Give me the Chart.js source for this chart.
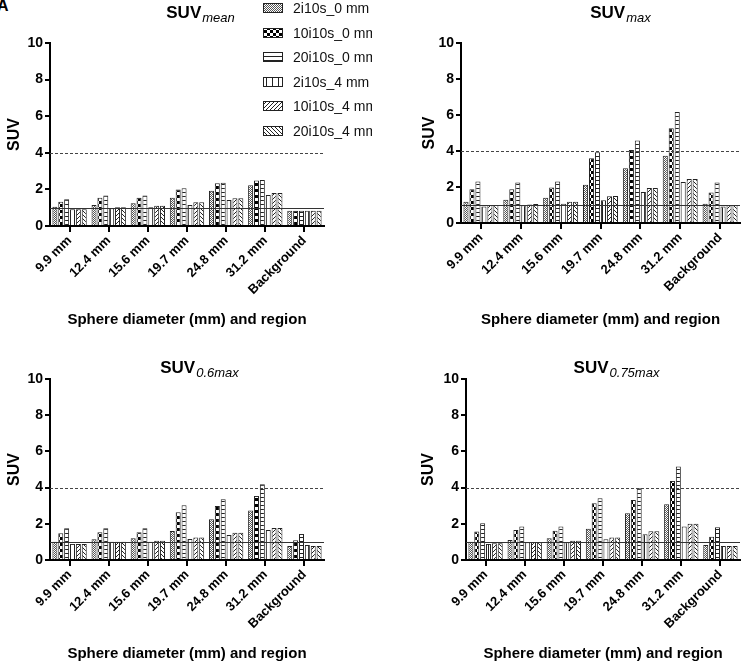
<!DOCTYPE html>
<html>
<head>
<meta charset="utf-8">
<script src="https://cdn.jsdelivr.net/npm/chart.js@4.4.1/dist/chart.umd.min.js"></script>
<style>
  body { margin: 0; background: #fff; width: 744px; height: 667px; position: relative; overflow: hidden; font-family: "Liberation Sans", Arial, sans-serif; }
  .panel { position: absolute; }
  .tag { position: absolute; left: -3px; top: -3px; font: bold 16px "Liberation Sans", Arial, sans-serif; color: #000; }
</style>
</head>
<body>
<div class="tag">A</div>
<div class="panel" style="left:0;top:0"><canvas id="chartA" width="372" height="333"></canvas></div>
<div class="panel" style="left:372px;top:0"><canvas id="chartB" width="372" height="333"></canvas></div>
<div class="panel" style="left:0;top:333px"><canvas id="chartC" width="372" height="334"></canvas></div>
<div class="panel" style="left:372px;top:333px"><canvas id="chartD" width="372" height="334"></canvas></div>
<script>
const categories = ['9.9 mm', '12.4 mm', '15.6 mm', '19.7 mm', '24.8 mm', '31.2 mm', 'Background'];
const seriesNames = ['2i10s_0 mm', '10i10s_0 mm', '20i10s_0 mm', '2i10s_4 mm', '10i10s_4 mm', '20i10s_4 mm'];
const yTicks = [0, 2, 4, 6, 8, 10];
const baselineLevel = 1;
const cutoffLevel = 4;
const xTitle = 'Sphere diameter (mm) and region';
const yTitle = 'SUV';

// one row per series, one value per category
const suvMean = [
  [1.05, 1.15, 1.24, 1.55, 1.93, 2.22, 0.83],
  [1.33, 1.55, 1.55, 2.00, 2.33, 2.48, 0.83],
  [1.46, 1.66, 1.66, 2.06, 2.37, 2.52, 0.84],
  [0.91, 0.97, 1.02, 1.15, 1.42, 1.70, 0.84],
  [0.92, 1.02, 1.11, 1.30, 1.51, 1.80, 0.83],
  [0.92, 1.02, 1.11, 1.30, 1.51, 1.80, 0.83]
];
const suvMax = [
  [1.18, 1.29, 1.40, 2.12, 3.04, 3.73, 1.07],
  [1.88, 1.88, 1.97, 3.60, 4.06, 5.26, 1.70],
  [2.30, 2.25, 2.30, 3.93, 4.58, 6.16, 2.25],
  [0.92, 0.98, 1.07, 1.26, 1.72, 2.28, 0.92],
  [1.00, 1.03, 1.18, 1.48, 1.94, 2.45, 0.98],
  [1.00, 1.05, 1.18, 1.50, 1.94, 2.45, 1.00]
];
const suv06max = [
  [1.01, 1.14, 1.20, 1.60, 2.25, 2.73, 0.77],
  [1.48, 1.53, 1.53, 2.64, 2.99, 3.54, 1.09],
  [1.75, 1.75, 1.75, 3.03, 3.36, 4.19, 1.44],
  [0.89, 1.01, 1.01, 1.16, 1.38, 1.66, 0.83],
  [0.89, 1.01, 1.07, 1.25, 1.51, 1.77, 0.77],
  [0.89, 1.01, 1.07, 1.25, 1.51, 1.77, 0.77]
];
const suv075max = [
  [1.01, 1.10, 1.20, 1.72, 2.58, 3.08, 0.83],
  [1.57, 1.66, 1.62, 3.14, 3.32, 4.37, 1.29],
  [2.03, 1.85, 1.85, 3.41, 3.97, 5.17, 1.81],
  [0.89, 0.98, 0.98, 1.14, 1.42, 1.85, 0.77],
  [0.92, 0.98, 1.07, 1.25, 1.59, 2.00, 0.77],
  [0.92, 0.98, 1.07, 1.25, 1.59, 2.00, 0.77]
];

const FONT = '"Liberation Sans", Arial, sans-serif';
Chart.defaults.font.family = FONT;
Chart.defaults.color = '#000';

// hatch fills
function makePattern(size, draw) {
  const c = document.createElement('canvas');
  c.width = size; c.height = size;
  const g = c.getContext('2d');
  g.fillStyle = '#fff';
  g.fillRect(0, 0, size, size);
  g.fillStyle = '#222';
  draw(g);
  return g.createPattern(c, 'repeat');
}
const patterns = [
  makePattern(2, g => { g.fillStyle = '#555'; g.fillRect(0, 0, 1, 1); g.fillRect(1, 1, 1, 1); }),
  makePattern(6, g => { g.fillStyle = '#000'; g.fillRect(0, 0, 3, 3); g.fillRect(3, 3, 3, 3); }),
  makePattern(4, g => { g.fillRect(0, 0, 4, 1); }),
  makePattern(6, g => { g.fillRect(2, 0, 1, 6); }),
  makePattern(4, g => { for (let i = 0; i < 4; i++) g.fillRect(3 - i, i, 1, 1); }),
  makePattern(4, g => { for (let i = 0; i < 4; i++) g.fillRect(i, i, 1, 1); })
];

const titlePlugin = {
  id: 'subTitle',
  afterDraw(chart, args, opts) {
    const ctx = chart.ctx;
    ctx.save();
    ctx.fillStyle = '#000';
    ctx.textBaseline = 'alphabetic';
    const bold = 'bold 17px ' + FONT;
    const ital = 'italic 13px ' + FONT;
    ctx.font = bold;
    const w1 = ctx.measureText(opts.main).width;
    ctx.font = ital;
    const w2 = ctx.measureText(opts.sub).width;
    const x = opts.cx - (w1 + w2) / 2;
    ctx.font = bold;
    ctx.fillText(opts.main, x, opts.baseline);
    ctx.font = ital;
    ctx.fillText(opts.sub, x + w1 + 1, opts.baseline + 4);
    ctx.restore();
  }
};

const refLinePlugin = {
  id: 'refLines',
  afterDatasetsDraw(chart) {
    const {ctx, chartArea, scales} = chart;
    const y1 = Math.round(scales.y.getPixelForValue(baselineLevel)) + 0.5;
    const y4 = Math.round(scales.y.getPixelForValue(cutoffLevel)) + 0.5;
    ctx.save();
    ctx.lineWidth = 1;
    ctx.strokeStyle = '#333';
    ctx.beginPath();
    ctx.moveTo(chartArea.left, y1);
    ctx.lineTo(chartArea.right, y1);
    ctx.stroke();
    ctx.strokeStyle = '#444';
    ctx.setLineDash([3, 2]);
    ctx.beginPath();
    ctx.moveTo(chartArea.left, y4);
    ctx.lineTo(chartArea.right, y4);
    ctx.stroke();
    ctx.restore();
  }
};

const legendPlugin = {
  id: 'sideLegend',
  afterDraw(chart, args, opts) {
    if (!opts.show) return;
    const ctx = chart.ctx;
    ctx.save();
    ctx.font = '14px ' + FONT;
    ctx.textBaseline = 'middle';
    chart.data.datasets.forEach((ds, i) => {
      const y = Math.round(opts.y0 + i * opts.gap);
      ctx.fillStyle = ds.backgroundColor;
      ctx.fillRect(opts.x, y - 5, 20, 10);
      ctx.strokeStyle = '#222';
      ctx.lineWidth = 1;
      ctx.strokeRect(opts.x + 0.5, y - 4.5, 19, 9);
      ctx.fillStyle = '#111';
      ctx.fillText(ds.label, opts.x + 30, y + 1);
    });
    ctx.restore();
  }
};

function makeChart(id, values, sub, p) {
  new Chart(document.getElementById(id), {
    type: 'bar',
    data: {
      labels: categories,
      datasets: seriesNames.map((name, i) => ({
        label: name,
        data: values[i],
        backgroundColor: patterns[i],
        borderColor: '#222',
        borderWidth: 1,
        categoryPercentage: 0.9,
        barPercentage: 0.85
      }))
    },
    options: {
      responsive: false,
      animation: false,
      layout: { padding: { left: p.padL, right: p.padR, top: p.top, bottom: 0 } },
      plugins: {
        legend: { display: false },
        tooltip: { enabled: false },
        subTitle: { main: 'SUV', sub: sub, cx: p.titleX, baseline: p.titleY },
        sideLegend: { show: !!p.legend, x: 263, y0: 8, gap: 24.5 }
      },
      scales: {
        x: {
          grid: { display: true, drawOnChartArea: false, drawTicks: true, tickLength: 6, color: '#000', lineWidth: 2, offset: false },
          border: { display: true, color: '#000', width: 2 },
          ticks: { color: '#000', font: { size: 13, weight: 'bold' }, minRotation: 45, maxRotation: 45, autoSkip: false, padding: 1 },
          title: { display: true, text: xTitle, color: '#000', font: { size: 15, weight: 'bold' }, padding: { top: 0, bottom: 4 } },
          afterFit(s) { s.height = p.xh; }
        },
        y: {
          min: yTicks[0],
          max: yTicks[yTicks.length - 1],
          afterBuildTicks(s) { s.ticks = yTicks.map(v => ({ value: v })); },
          grid: { display: true, drawOnChartArea: false, tickLength: 5, color: '#000', lineWidth: 2 },
          border: { display: true, color: '#000', width: 2 },
          ticks: { color: '#000', font: { size: 14, weight: 'bold' }, padding: 2 },
          title: { display: true, text: yTitle, color: '#000', font: { size: 16, weight: 'bold' }, padding: { top: 5, bottom: 0 } },
          afterFit(s) { s.width = p.yw; }
        }
      }
    },
    plugins: [refLinePlugin, titlePlugin, legendPlugin]
  });
}

makeChart('chartA', suvMean, 'mean', { padL: 0, yw: 50, padR: 48, top: 43, xh: 107, titleX: 200, titleY: 18, legend: true });
makeChart('chartB', suvMax, 'max', { padL: 43, yw: 46, padR: 4, top: 43, xh: 110, titleX: 248, titleY: 18 });
makeChart('chartC', suv06max, '0.6max', { padL: 0, yw: 50, padR: 48, top: 46, xh: 107, titleX: 199, titleY: 40 });
makeChart('chartD', suv075max, '0.75max', { padL: 42, yw: 52, padR: 4, top: 46, xh: 107, titleX: 244, titleY: 40 });
</script>
</body>
</html>
